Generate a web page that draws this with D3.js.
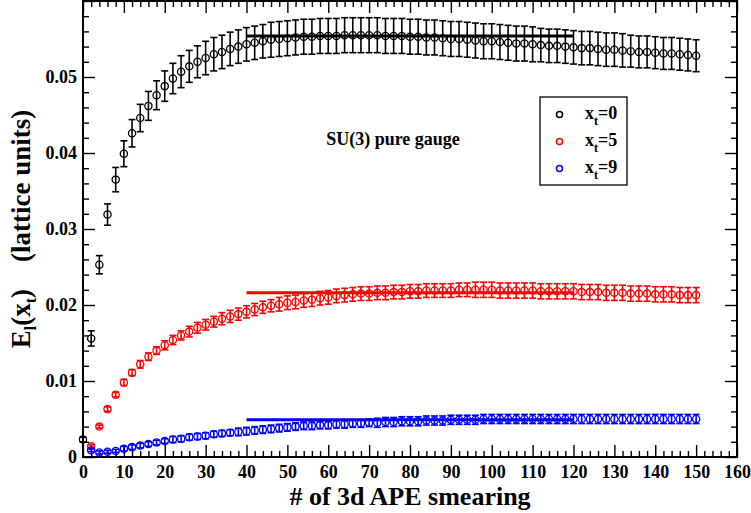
<!DOCTYPE html>
<html>
<head>
<meta charset="utf-8">
<script src="https://cdn.jsdelivr.net/npm/d3@7/dist/d3.min.js"></script>
<style>
  html, body { margin: 0; padding: 0; background: #fff; }
  svg text { font-family: "Liberation Serif", "Times New Roman", Times, "DejaVu Serif", serif; font-weight: bold; }
</style>
</head>
<body>
<div id="chart"></div>
<script>
// Energy density vs number of 3d APE smearing steps, three x_t slices.

const FONT = "'Liberation Serif', 'Times New Roman', Times, 'DejaVu Serif', serif";

const stepsAll = [0, 2, 4, 6, 8, 10, 12, 14, 16, 18, 20, 22, 24, 26, 28, 30, 32, 34, 36, 38,
  40, 42, 44, 46, 48, 50, 52, 54, 56, 58, 60, 62, 64, 66, 68, 70, 72, 74, 76, 78,
  80, 82, 84, 86, 88, 90, 92, 94, 96, 98, 100, 102, 104, 106, 108, 110, 112, 114, 116, 118,
  120, 122, 124, 126, 128, 130, 132, 134, 136, 138, 140, 142, 144, 146, 148, 150];
const stepsFrom2 = stepsAll.slice(1);

const xt0Values = [0.0023, 0.0156, 0.0253, 0.0319, 0.0365, 0.0399, 0.0426, 0.0446, 0.0462, 0.0476,
  0.0488, 0.0498, 0.0507, 0.0514, 0.0520, 0.0525, 0.0530, 0.0533, 0.0537, 0.0540,
  0.0543, 0.0545, 0.0547, 0.0549, 0.0550, 0.0551, 0.0552, 0.0553, 0.0553, 0.0554,
  0.0554, 0.0554, 0.0555, 0.0555, 0.0555, 0.0555, 0.0555, 0.0554, 0.0554, 0.0554,
  0.0553, 0.0553, 0.0552, 0.0552, 0.0551, 0.0550, 0.0550, 0.0549, 0.0548, 0.0547,
  0.0547, 0.0546, 0.0545, 0.0544, 0.0544, 0.0543, 0.0542, 0.0541, 0.0541, 0.0540,
  0.0539, 0.0538, 0.0538, 0.0537, 0.0536, 0.0536, 0.0535, 0.0534, 0.0533, 0.0533,
  0.0532, 0.0531, 0.0531, 0.0530, 0.0529, 0.0528];
const xt0Errors = [0.0003, 0.0010, 0.0012, 0.0014, 0.0016, 0.0017, 0.0018, 0.0018, 0.0019, 0.0019,
  0.0020, 0.0020, 0.0021, 0.0021, 0.0021, 0.0022, 0.0022, 0.0022, 0.0022, 0.0022,
  0.0022, 0.0022, 0.0022, 0.0023, 0.0023, 0.0023, 0.0023, 0.0023, 0.0023, 0.0023,
  0.0023, 0.0023, 0.0023, 0.0023, 0.0023, 0.0023, 0.0023, 0.0023, 0.0023, 0.0023,
  0.0023, 0.0023, 0.0023, 0.0023, 0.0023, 0.0023, 0.0023, 0.0023, 0.0023, 0.0023,
  0.0023, 0.0023, 0.0023, 0.0023, 0.0023, 0.0023, 0.0022, 0.0022, 0.0022, 0.0022,
  0.0022, 0.0022, 0.0022, 0.0022, 0.0022, 0.0022, 0.0022, 0.0021, 0.0021, 0.0021,
  0.0021, 0.0021, 0.0021, 0.0021, 0.0021, 0.0021];

const xt5Values = [0.0014, 0.0040, 0.0063, 0.0082, 0.0098, 0.0111, 0.0122, 0.0132, 0.0140,
  0.0147, 0.0154, 0.0160, 0.0165, 0.0170, 0.0174, 0.0178, 0.0182, 0.0185, 0.0188,
  0.0191, 0.0194, 0.0197, 0.0199, 0.0201, 0.0203, 0.0204, 0.0206, 0.0207, 0.0209,
  0.0210, 0.0212, 0.0213, 0.0214, 0.0215, 0.0215, 0.0216, 0.0216, 0.0217, 0.0217,
  0.0218, 0.0218, 0.0219, 0.0219, 0.0219, 0.0219, 0.0220, 0.0220, 0.0220, 0.0220,
  0.0220, 0.0219, 0.0219, 0.0219, 0.0219, 0.0219, 0.0218, 0.0218, 0.0218, 0.0218,
  0.0218, 0.0217, 0.0217, 0.0217, 0.0216, 0.0216, 0.0216, 0.0215, 0.0215, 0.0215,
  0.0214, 0.0214, 0.0214, 0.0213, 0.0213, 0.0213];
const xt5Errors = [0.0002, 0.0002, 0.0003, 0.0003, 0.0004, 0.0004, 0.0005, 0.0005, 0.0005,
  0.0006, 0.0006, 0.0006, 0.0007, 0.0007, 0.0007, 0.0007, 0.0008, 0.0008, 0.0008,
  0.0008, 0.0008, 0.0008, 0.0008, 0.0009, 0.0009, 0.0009, 0.0009, 0.0009, 0.0009,
  0.0009, 0.0009, 0.0009, 0.0009, 0.0009, 0.0009, 0.0009, 0.0009, 0.0009, 0.0009,
  0.0009, 0.0009, 0.0009, 0.0009, 0.0009, 0.0009, 0.0009, 0.0009, 0.0010, 0.0010,
  0.0010, 0.0010, 0.0010, 0.0010, 0.0010, 0.0010, 0.0010, 0.0010, 0.0010, 0.0010,
  0.0010, 0.0010, 0.0010, 0.0010, 0.0010, 0.0010, 0.0010, 0.0010, 0.0010, 0.0010,
  0.0010, 0.0010, 0.0010, 0.0010, 0.0010, 0.0010];

const xt9Values = [0.0009, 0.0006, 0.0007, 0.0008, 0.0011, 0.0013, 0.0015, 0.0017, 0.0019,
  0.0021, 0.0023, 0.0024, 0.0026, 0.0027, 0.0028, 0.0030, 0.0031, 0.0032, 0.0033,
  0.0034, 0.0035, 0.0036, 0.0037, 0.0038, 0.0039, 0.0040, 0.0041, 0.0041, 0.0042,
  0.0042, 0.0043, 0.0043, 0.0044, 0.0044, 0.0045, 0.0045, 0.0046, 0.0046, 0.0047,
  0.0047, 0.0047, 0.0048, 0.0048, 0.0048, 0.0049, 0.0049, 0.0049, 0.0049, 0.0050,
  0.0050, 0.0050, 0.0050, 0.0050, 0.0050, 0.0050, 0.0050, 0.0050, 0.0050, 0.0050,
  0.0050, 0.0050, 0.0050, 0.0050, 0.0050, 0.0050, 0.0050, 0.0050, 0.0050, 0.0050,
  0.0050, 0.0050, 0.0050, 0.0050, 0.0050, 0.0050];
const xt9Errors = [0.0002, 0.0002, 0.0002, 0.0002, 0.0003, 0.0003, 0.0003, 0.0003, 0.0003,
  0.0003, 0.0004, 0.0004, 0.0004, 0.0004, 0.0004, 0.0004, 0.0004, 0.0004, 0.0005,
  0.0005, 0.0005, 0.0005, 0.0005, 0.0005, 0.0005, 0.0005, 0.0005, 0.0005, 0.0005,
  0.0005, 0.0005, 0.0005, 0.0005, 0.0005, 0.0005, 0.0006, 0.0006, 0.0006, 0.0006,
  0.0006, 0.0006, 0.0006, 0.0006, 0.0006, 0.0006, 0.0006, 0.0006, 0.0006, 0.0006,
  0.0006, 0.0006, 0.0006, 0.0006, 0.0006, 0.0006, 0.0006, 0.0006, 0.0006, 0.0006,
  0.0006, 0.0006, 0.0006, 0.0006, 0.0006, 0.0006, 0.0006, 0.0006, 0.0006, 0.0006,
  0.0006, 0.0006, 0.0006, 0.0006, 0.0006, 0.0006];

// plateau fits over smearing 40..120
const fitRange = [40, 120];
const fitValues = [0.0554, 0.0216, 0.0049];

const seriesLabels = ["0", "5", "9"];
const seriesColors = ["#000000", "#ff0000", "#0000ff"];

const xMajorTicks = [0, 10, 20, 30, 40, 50, 60, 70, 80, 90, 100, 110, 120, 130, 140, 150, 160];
const yMajorTicks = [0, 0.01, 0.02, 0.03, 0.04, 0.05, 0.06];
const yTickLabels = ["0", "0.01", "0.02", "0.03", "0.04", "0.05", ""];

const W = 751, H = 513;
const PLOT = { left: 83, right: 737, top: 1, bottom: 457 };

const svg = d3.select("#chart").append("svg")
  .attr("width", W).attr("height", H)
  .attr("viewBox", `0 0 ${W} ${H}`)
  .attr("font-family", FONT)
  .attr("font-weight", "bold");

const x = d3.scaleLinear().domain([0, 160]).range([PLOT.left, PLOT.right]);
const y = d3.scaleLinear().domain([0, 0.06]).range([PLOT.bottom, PLOT.top]);

const xMinor = d3.range(0, 161, 2).filter(v => v % 10 !== 0);
const yMinor = d3.range(0, 61, 2).filter(v => v % 10 !== 0).map(v => v / 1000);

function styleAxis(g) {
  g.attr("font-family", FONT).attr("font-weight", "bold");
  g.select(".domain").remove();
  g.selectAll(".tick line").attr("stroke", "#000").attr("stroke-width", 1.4);
  g.selectAll(".tick text")
    .attr("fill", "#000")
    .attr("font-size", 18)
    .attr("font-weight", "bold")
    .attr("font-family", FONT);
}

// bottom
svg.append("g").attr("transform", `translate(0,${PLOT.bottom})`)
  .call(d3.axisBottom(x).tickValues(xMajorTicks).tickSize(-12).tickPadding(8).tickFormat(d3.format("d")))
  .call(styleAxis);
svg.append("g").attr("transform", `translate(0,${PLOT.bottom})`)
  .call(d3.axisBottom(x).tickValues(xMinor).tickSize(-6).tickFormat(""))
  .call(styleAxis);
// top
svg.append("g").attr("transform", `translate(0,${PLOT.top})`)
  .call(d3.axisTop(x).tickValues(xMajorTicks).tickSize(-12).tickFormat(""))
  .call(styleAxis);
svg.append("g").attr("transform", `translate(0,${PLOT.top})`)
  .call(d3.axisTop(x).tickValues(xMinor).tickSize(-6).tickFormat(""))
  .call(styleAxis);
// left
svg.append("g").attr("transform", `translate(${PLOT.left},0)`)
  .call(d3.axisLeft(y).tickValues(yMajorTicks).tickSize(-12).tickPadding(6)
    .tickFormat((d, i) => yTickLabels[i]))
  .call(styleAxis);
svg.append("g").attr("transform", `translate(${PLOT.left},0)`)
  .call(d3.axisLeft(y).tickValues(yMinor).tickSize(-6).tickFormat(""))
  .call(styleAxis);
// right
svg.append("g").attr("transform", `translate(${PLOT.right},0)`)
  .call(d3.axisRight(y).tickValues(yMajorTicks).tickSize(-12).tickFormat(""))
  .call(styleAxis);
svg.append("g").attr("transform", `translate(${PLOT.right},0)`)
  .call(d3.axisRight(y).tickValues(yMinor).tickSize(-6).tickFormat(""))
  .call(styleAxis);

svg.append("rect")
  .attr("x", PLOT.left).attr("y", PLOT.top)
  .attr("width", PLOT.right - PLOT.left).attr("height", PLOT.bottom - PLOT.top)
  .attr("fill", "none").attr("stroke", "#000").attr("stroke-width", 2);

// data series
const series = [
  { steps: stepsAll, values: xt0Values, errors: xt0Errors },
  { steps: stepsFrom2, values: xt5Values, errors: xt5Errors },
  { steps: stepsFrom2, values: xt9Values, errors: xt9Errors },
];

const CAP = 3.5;
series.forEach((s, si) => {
  const color = seriesColors[si];
  const pts = s.steps.map((st, i) => ({ st, v: s.values[i], e: s.errors[i] }));
  const g = svg.append("g");
  const eb = g.selectAll("g.err").data(pts).join("g").attr("class", "err")
    .attr("stroke", color).attr("stroke-width", 1.6);
  eb.append("line")
    .attr("x1", d => x(d.st)).attr("x2", d => x(d.st))
    .attr("y1", d => y(d.v - d.e)).attr("y2", d => y(d.v + d.e));
  eb.append("line")
    .attr("x1", d => x(d.st) - CAP).attr("x2", d => x(d.st) + CAP)
    .attr("y1", d => y(d.v + d.e)).attr("y2", d => y(d.v + d.e));
  eb.append("line")
    .attr("x1", d => x(d.st) - CAP).attr("x2", d => x(d.st) + CAP)
    .attr("y1", d => y(d.v - d.e)).attr("y2", d => y(d.v - d.e));
  g.selectAll("circle").data(pts).join("circle")
    .attr("cx", d => x(d.st)).attr("cy", d => y(d.v))
    .attr("r", 3.6)
    .attr("fill", "none").attr("stroke", color).attr("stroke-width", 1.3);
});

// plateau fit lines
fitValues.forEach((v, i) => {
  svg.append("line")
    .attr("x1", x(fitRange[0])).attr("x2", x(fitRange[1]))
    .attr("y1", y(v)).attr("y2", y(v))
    .attr("stroke", seriesColors[i]).attr("stroke-width", 3);
});

// annotation
svg.append("text")
  .attr("x", 393).attr("y", 145)
  .attr("text-anchor", "middle")
  .attr("font-size", 18)
  .text("SU(3) pure gauge");

// legend
const leg = svg.append("g");
leg.append("rect")
  .attr("x", 540).attr("y", 97).attr("width", 87).attr("height", 88)
  .attr("fill", "#fff").attr("stroke", "#000").attr("stroke-width", 1.3);
seriesLabels.forEach((lab, i) => {
  const cy = 114.5 + i * 27;
  leg.append("circle")
    .attr("cx", 559.5).attr("cy", cy).attr("r", 3)
    .attr("fill", "none").attr("stroke", seriesColors[i]).attr("stroke-width", 1.5);
  const t = leg.append("text").attr("x", 585).attr("y", cy + 4).attr("font-size", 18);
  t.append("tspan").text("x");
  t.append("tspan").attr("font-size", 12).attr("dy", 6).text("t");
  t.append("tspan").attr("dy", -6).text("=" + lab);
});

// axis titles
svg.append("text")
  .attr("x", (PLOT.left + PLOT.right) / 2).attr("y", 505)
  .attr("text-anchor", "middle")
  .attr("font-size", 26)
  .text("# of 3d APE smearing");

const yt = svg.append("text")
  .attr("transform", `translate(30,${(PLOT.top + PLOT.bottom) / 2}) rotate(-90)`)
  .attr("text-anchor", "middle")
  .attr("font-size", 27);
yt.append("tspan").text("E");
yt.append("tspan").attr("font-size", 16).attr("dy", 6).text("l");
yt.append("tspan").attr("dy", -6).text("(x");
yt.append("tspan").attr("font-size", 16).attr("dy", 6).text("t");
yt.append("tspan").attr("dy", -6).text(")\u00a0\u00a0\u00a0\u00a0(lattice units)");
</script>
</body>
</html>
